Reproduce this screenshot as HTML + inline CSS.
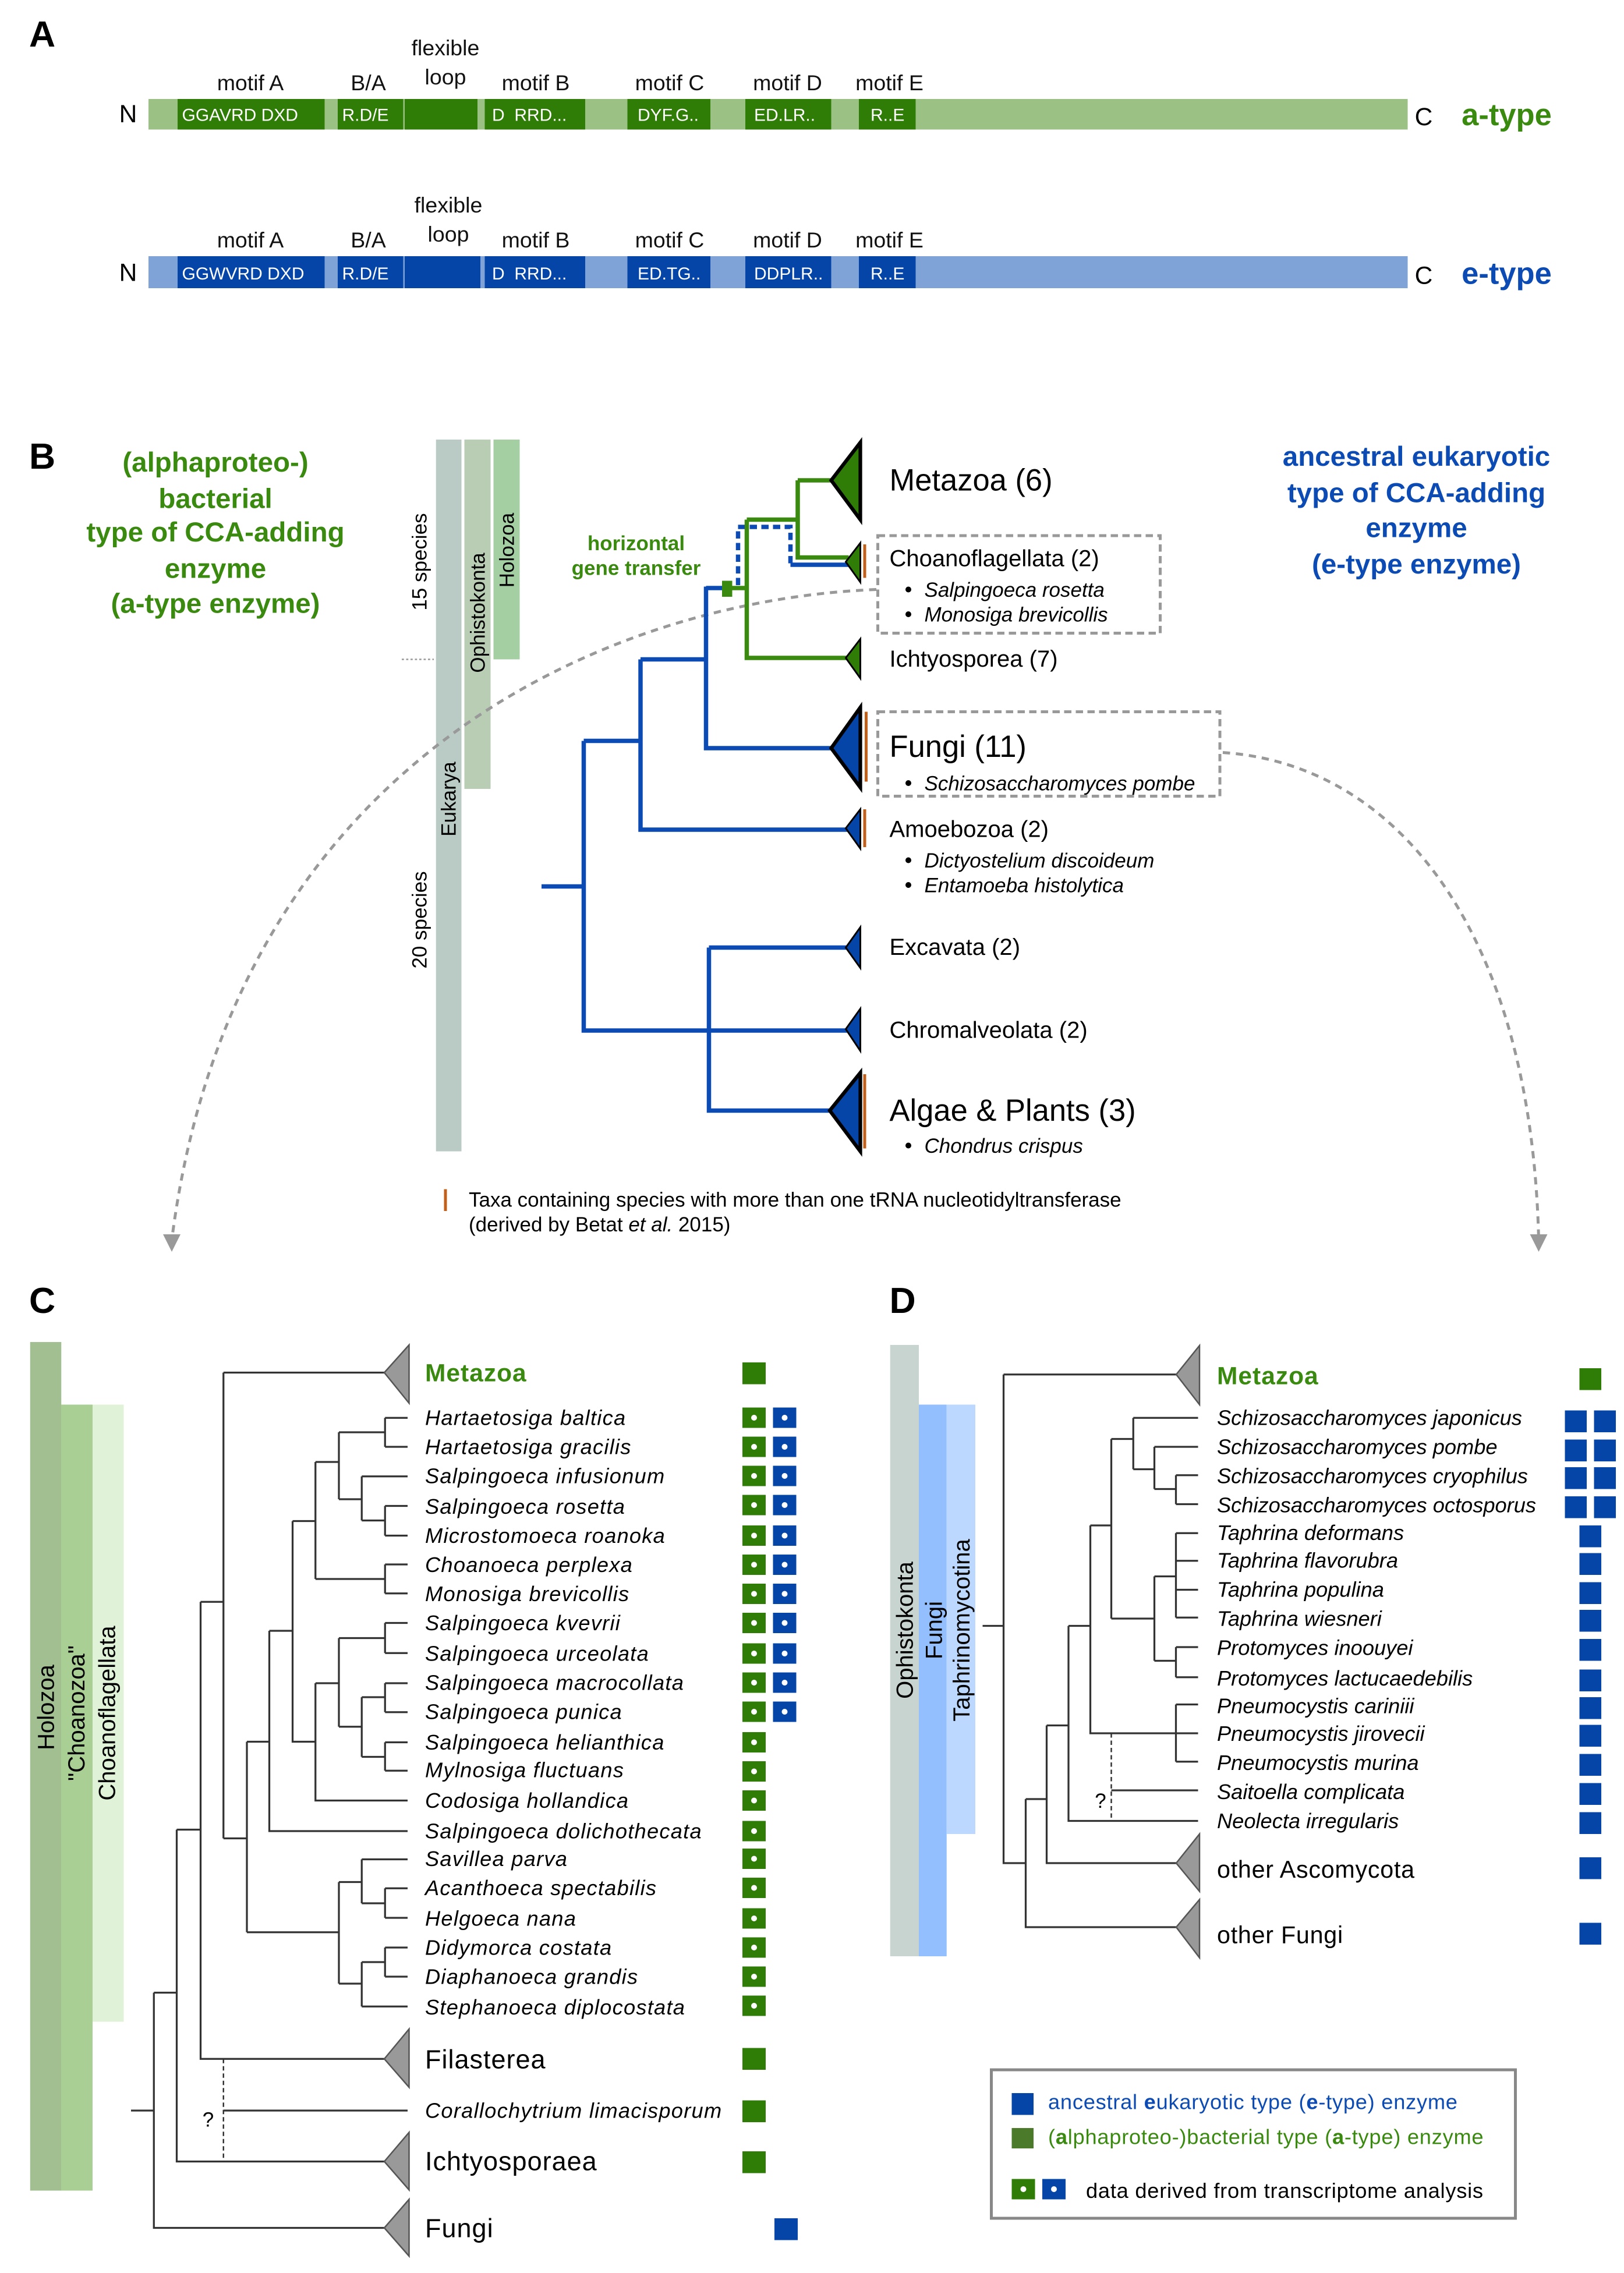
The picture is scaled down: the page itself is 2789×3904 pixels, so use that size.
<!DOCTYPE html>
<html><head><meta charset="utf-8"><style>
html,body{margin:0;padding:0;background:#fff}
svg{display:block}
text{font-family:"Liberation Sans",Arial,sans-serif}
</style></head><body>
<svg width="2789" height="3904" viewBox="0 0 1115.6 1561.6" xmlns="http://www.w3.org/2000/svg">
<rect width="1115.6" height="1561.6" fill="#fff"/>
<!-- Panel A -->
<text x="20" y="32" font-size="25" font-weight="bold">A</text>
<g font-size="15" text-anchor="middle" fill="#111">
<text x="172" y="62">motif A</text><text x="253" y="62">B/A</text>
<text x="306" y="38">flexible</text><text x="306" y="58">loop</text>
<text x="368" y="62">motif B</text><text x="460" y="62">motif C</text>
<text x="541" y="62">motif D</text><text x="611" y="62">motif E</text>
<text x="172" y="170">motif A</text><text x="253" y="170">B/A</text>
<text x="308" y="146">flexible</text><text x="308" y="166">loop</text>
<text x="368" y="170">motif B</text><text x="460" y="170">motif C</text>
<text x="541" y="170">motif D</text><text x="611" y="170">motif E</text>
</g>
<text x="88" y="84" font-size="17" text-anchor="middle">N</text>
<text x="978" y="86" font-size="17" text-anchor="middle">C</text>
<text x="1035" y="86" font-size="21" font-weight="bold" fill="#3a8a10" text-anchor="middle">a-type</text>
<text x="88" y="193" font-size="17" text-anchor="middle">N</text>
<text x="978" y="195" font-size="17" text-anchor="middle">C</text>
<text x="1035" y="195" font-size="21" font-weight="bold" fill="#0b4bb3" text-anchor="middle">e-type</text>
<rect x="102" y="68" width="865" height="21" fill="#9cc184"/>
<g fill="#2f7d07">
<rect x="122" y="68" width="101" height="21"/><rect x="232" y="68" width="45" height="21"/>
<rect x="278" y="68" width="50" height="21"/><rect x="333" y="68" width="69" height="21"/>
<rect x="431" y="68" width="57" height="21"/><rect x="512" y="68" width="59" height="21"/>
<rect x="590" y="68" width="39" height="21"/></g>
<rect x="102" y="176" width="865" height="22" fill="#7fa3d6"/>
<g fill="#0645a8">
<rect x="122" y="176" width="101" height="22"/><rect x="232" y="176" width="45" height="22"/>
<rect x="278" y="176" width="52" height="22"/><rect x="333" y="176" width="69" height="22"/>
<rect x="431" y="176" width="57" height="22"/><rect x="512" y="176" width="59" height="22"/>
<rect x="590" y="176" width="39" height="22"/></g>
<g font-size="12" fill="#fff">
<text x="125" y="83">GGAVRD DXD</text><text x="235" y="83">R.D/E</text><text x="338" y="83">D&#160;&#160;RRD...</text>
<text x="438" y="83">DYF.G..</text><text x="518" y="83">ED.LR..</text><text x="598" y="83">R..E</text>
<text x="125" y="192">GGWVRD DXD</text><text x="235" y="192">R.D/E</text><text x="338" y="192">D&#160;&#160;RRD...</text>
<text x="438" y="192">ED.TG..</text><text x="518" y="192">DDPLR..</text><text x="598" y="192">R..E</text>
</g>
<!-- Panel B -->
<text x="20" y="322" font-size="25" font-weight="bold">B</text>
<g font-size="19" font-weight="bold" fill="#3a8a10" text-anchor="middle">
<text x="148" y="324">(alphaproteo-)</text><text x="148" y="349">bacterial</text>
<text x="148" y="372">type of CCA-adding</text><text x="148" y="397">enzyme</text><text x="148" y="421">(a-type enzyme)</text></g>
<g font-size="19" font-weight="bold" fill="#0b4bb3" text-anchor="middle">
<text x="973" y="320">ancestral eukaryotic</text><text x="973" y="345">type of CCA-adding</text>
<text x="973" y="369">enzyme</text><text x="973" y="394">(e-type enzyme)</text></g>
<rect x="299.5" y="302" width="17.5" height="489" fill="#b9cbc4"/>
<rect x="319" y="302" width="18" height="240" fill="#b9cdb4"/>
<rect x="339" y="302" width="18" height="151" fill="#a3cfa3"/>
<line x1="276" y1="453" x2="298" y2="453" stroke="#999" stroke-dasharray="1.5,1.5"/>
<g font-size="14" text-anchor="middle">
<text transform="translate(293,386) rotate(-90)">15 species</text>
<text transform="translate(293,632) rotate(-90)">20 species</text>
<text transform="translate(313,549) rotate(-90)">Eukarya</text>
<text transform="translate(333,421) rotate(-90)">Ophistokonta</text>
<text transform="translate(353,378) rotate(-90)">Holozoa</text></g>
<g font-size="14" font-weight="bold" fill="#3a8a10" text-anchor="middle">
<text x="437" y="378">horizontal</text><text x="437" y="395">gene transfer</text></g>
<g fill="none" stroke="#999" stroke-width="2" stroke-dasharray="5,4">
<path d="M602,405 C420,412 160,520 118,852"/>
<path d="M840,517 C960,525 1052,640 1057,852"/></g>
<path d="M112,848 L118,860 L124,848 Z" fill="#999"/>
<path d="M1051,848 L1057,860 L1063,848 Z" fill="#999"/>
<g stroke="#0b4bb3" stroke-width="3" fill="none">
<path d="M372,609 H401 M401,509 V708 H585 M401,509 H440 M440,453 V570 H585 M440,453 H485 M485,403 V514 H572 M485,404 H498"/>
<path d="M487,651 V763 H572 M487,651 H582"/>
<path d="M543,388 H583"/>
<path d="M507,402 V362 H543 V388" stroke-dasharray="5,3"/></g>
<g stroke="#3a8a10" stroke-width="3" fill="none">
<path d="M503,404 H513 M513,357 V452 H583 M513,357 H548 M548,330 V383 H583 M548,330 H572"/></g>
<rect x="496" y="399" width="7" height="11" fill="#3a8a10"/>
<g stroke="#000" stroke-width="2.5" stroke-linejoin="miter">
<path d="M571,330 L591,304 L591,357 Z" fill="#2f7d07"/>
<path d="M581,386 L591,373 L591,400 Z" fill="#2f7d07" stroke-width="1.2"/>
<path d="M581,452 L591,439 L591,466 Z" fill="#2f7d07" stroke-width="1.2"/>
<path d="M571,514 L591,486 L591,541 Z" fill="#0645a8"/>
<path d="M581,569 L591,556 L591,583 Z" fill="#0645a8" stroke-width="1.2"/>
<path d="M581,651 L591,637 L591,665 Z" fill="#0645a8" stroke-width="1.2"/>
<path d="M581,707 L591,693 L591,722 Z" fill="#0645a8" stroke-width="1.2"/>
<path d="M570,763 L591,737 L591,791 Z" fill="#0645a8"/></g>
<g stroke="#c0601a" stroke-width="2">
<line x1="594" y1="374" x2="594" y2="397"/><line x1="595" y1="489" x2="595" y2="537"/>
<line x1="594" y1="556" x2="594" y2="582"/><line x1="594" y1="738" x2="594" y2="789"/>
<line x1="306" y1="817" x2="306" y2="832"/></g>
<g fill="none" stroke="#999" stroke-width="2" stroke-dasharray="5,3">
<rect x="603" y="368" width="194" height="67"/><rect x="603" y="489" width="235" height="58"/></g>
<g fill="#000">
<text x="611" y="337" font-size="21">Metazoa (6)</text>
<text x="611" y="389" font-size="16">Choanoflagellata (2)</text>
<text x="611" y="458" font-size="16">Ichtyosporea (7)</text>
<text x="611" y="520" font-size="21">Fungi (11)</text>
<text x="611" y="575" font-size="16">Amoebozoa (2)</text>
<text x="611" y="656" font-size="16">Excavata (2)</text>
<text x="611" y="713" font-size="16">Chromalveolata (2)</text>
<text x="611" y="770" font-size="21">Algae &amp; Plants (3)</text>
<g font-size="14" font-style="italic">
<text x="635" y="410">Salpingoeca rosetta</text><text x="635" y="427">Monosiga brevicollis</text>
<text x="635" y="543">Schizosaccharomyces pombe</text>
<text x="635" y="596">Dictyostelium discoideum</text><text x="635" y="613">Entamoeba histolytica</text>
<text x="635" y="792">Chondrus crispus</text></g>
<g><circle cx="624" cy="405" r="2"/><circle cx="624" cy="422" r="2"/><circle cx="624" cy="538" r="2"/>
<circle cx="624" cy="591" r="2"/><circle cx="624" cy="608" r="2"/><circle cx="624" cy="787" r="2"/></g>
<text x="322" y="829" font-size="14">Taxa containing species with more than one tRNA nucleotidyltransferase</text>
<text x="322" y="846" font-size="14">(derived by Betat <tspan font-style="italic">et al.</tspan> 2015)</text>
</g>
<!-- Panel C -->
<text x="20" y="902" font-size="25" font-weight="bold">C</text>
<rect x="20.7" y="922" width="21.4" height="583" fill="#a2bf92"/>
<rect x="42" y="965" width="21.6" height="540" fill="#a9cf95"/>
<rect x="63.6" y="965" width="21.4" height="424" fill="#e0f3d8"/>
<g font-size="16" text-anchor="middle">
<text transform="translate(37,1173) rotate(-90)">Holozoa</text>
<text transform="translate(58,1177) rotate(-90)">"Choanozoa"</text>
<text transform="translate(79,1177) rotate(-90)">Choanoflagellata</text></g>
<g stroke="#333" stroke-width="1.3" fill="none">
<path d="M90,1450 H105.7 M105.7,1369 V1530.6 H264 M105.7,1369 H121.4 M121.4,1257 V1485 H264 M121.4,1257 H137.8 M137.8,1100.5 V1414.5 H264 M137.8,1100.5 H153.5 M153.5,943 V1263 M153.5,943 H264"/>
<path d="M153.5,1450 H280"/>
<path d="M153.5,1263 H169.6 M169.6,1196.6 V1327.5 M169.6,1196.6 H185 M185,1120.4 V1258 H280 M185,1120.4 H201 M201,1045 V1196.6 H216.7 M216.7,1156.4 V1237 H280 M216.7,1156.4 H232.8 M232.8,1125.4 V1186.3 M232.8,1125.4 H264.5 M264.5,1115 V1135.7 M264.5,1115 H280 M264.5,1135.7 H280 M232.8,1186.3 H248.5 M248.5,1166 V1207 M248.5,1166 H264.5 M264.5,1156.4 V1176.3 M264.5,1156.4 H280 M264.5,1176.3 H280 M248.5,1207 H264.5 M264.5,1197 V1216.5 M264.5,1197 H280 M264.5,1216.5 H280"/>
<path d="M201,1045 H216.7 M216.7,1004.4 V1084.8 M216.7,1004.4 H232.8 M232.8,984 V1030 M232.8,984 H264.5 M264.5,974.1 V994 M264.5,974.1 H280 M264.5,994 H280 M232.8,1030 H248.5 M248.5,1014.3 V1044.6 M248.5,1014.3 H280 M248.5,1044.6 H264.5 M264.5,1034.6 V1055 M264.5,1034.6 H280 M264.5,1055 H280 M216.7,1084.8 H264.5 M264.5,1074.8 V1094.7 M264.5,1074.8 H280 M264.5,1094.7 H280"/>
<path d="M169.6,1327.5 H232.8 M232.8,1293 V1362.8 M232.8,1293 H248.5 M248.5,1277.4 V1307.6 M248.5,1277.4 H280 M248.5,1307.6 H264.5 M264.5,1297.3 V1317.6 M264.5,1297.3 H280 M264.5,1317.6 H280 M232.8,1362.8 H248.5 M248.5,1348 V1378.5 M248.5,1348 H264.5 M264.5,1338 V1358 M264.5,1338 H280 M264.5,1358 H280 M248.5,1378.5 H280"/>
<path d="M153.5,1414.5 V1485" stroke-dasharray="3,2" stroke-width="1"/>
</g>
<text x="143" y="1461" font-size="14" text-anchor="middle">?</text>
<g fill="#999" stroke="#555" stroke-width="1">
<path d="M264,943 L281,924 L281,964 Z"/><path d="M264,1414.5 L281,1394 L281,1434 Z"/>
<path d="M264,1485 L281,1465 L281,1504.5 Z"/><path d="M264,1530.6 L281,1511 L281,1550 Z"/></g>
<text x="292" y="949" font-size="17" font-weight="bold" fill="#3a8a10" letter-spacing="0.4">Metazoa</text>
<g font-size="18" letter-spacing="0.4"><text x="292" y="1421">Filasterea</text><text x="292" y="1491">Ichtyosporaea</text><text x="292" y="1537">Fungi</text></g>
<g font-size="14.5" font-style="italic" letter-spacing="0.5">
<text x="292" y="979">Hartaetosiga baltica</text><text x="292" y="999">Hartaetosiga gracilis</text>
<text x="292" y="1019">Salpingoeca infusionum</text><text x="292" y="1040">Salpingoeca rosetta</text>
<text x="292" y="1060">Microstomoeca roanoka</text><text x="292" y="1080">Choanoeca perplexa</text>
<text x="292" y="1100">Monosiga brevicollis</text><text x="292" y="1120">Salpingoeca kvevrii</text>
<text x="292" y="1141">Salpingoeca urceolata</text><text x="292" y="1161">Salpingoeca macrocollata</text>
<text x="292" y="1181">Salpingoeca punica</text><text x="292" y="1202">Salpingoeca helianthica</text>
<text x="292" y="1221">Mylnosiga fluctuans</text><text x="292" y="1242">Codosiga hollandica</text>
<text x="292" y="1263">Salpingoeca dolichothecata</text><text x="292" y="1282">Savillea parva</text>
<text x="292" y="1302">Acanthoeca spectabilis</text><text x="292" y="1323">Helgoeca nana</text>
<text x="292" y="1343">Didymorca costata</text><text x="292" y="1363">Diaphanoeca grandis</text>
<text x="292" y="1384">Stephanoeca diplocostata</text>
<text x="292" y="1455">Corallochytrium limacisporum</text></g>
<g fill="#2f7d07">
<rect x="510" y="936" width="16" height="15"/><rect x="510" y="1407" width="16" height="15"/>
<rect x="510" y="1443" width="16" height="15"/><rect x="510" y="1478" width="16" height="15"/></g>
<rect x="532" y="1524" width="16" height="15" fill="#0645a8"/>
<g fill="#2f7d07">
<rect x="510" y="967" width="16" height="14"/><rect x="510" y="987" width="16" height="14"/><rect x="510" y="1007" width="16" height="14"/><rect x="510" y="1027" width="16" height="14"/><rect x="510" y="1048" width="16" height="14"/><rect x="510" y="1068" width="16" height="14"/><rect x="510" y="1088" width="16" height="14"/><rect x="510" y="1108" width="16" height="14"/><rect x="510" y="1129" width="16" height="14"/><rect x="510" y="1149" width="16" height="14"/><rect x="510" y="1169" width="16" height="14"/><rect x="510" y="1190" width="16" height="14"/><rect x="510" y="1210" width="16" height="14"/><rect x="510" y="1230" width="16" height="14"/><rect x="510" y="1251" width="16" height="14"/><rect x="510" y="1270" width="16" height="14"/><rect x="510" y="1290" width="16" height="14"/><rect x="510" y="1311" width="16" height="14"/><rect x="510" y="1331" width="16" height="14"/><rect x="510" y="1351" width="16" height="14"/><rect x="510" y="1371" width="16" height="14"/></g>
<g fill="#0645a8">
<rect x="531" y="967" width="16" height="14"/><rect x="531" y="987" width="16" height="14"/><rect x="531" y="1007" width="16" height="14"/><rect x="531" y="1027" width="16" height="14"/><rect x="531" y="1048" width="16" height="14"/><rect x="531" y="1068" width="16" height="14"/><rect x="531" y="1088" width="16" height="14"/><rect x="531" y="1108" width="16" height="14"/><rect x="531" y="1129" width="16" height="14"/><rect x="531" y="1149" width="16" height="14"/><rect x="531" y="1169" width="16" height="14"/></g>
<g fill="#fff">
<circle cx="518" cy="974" r="2"/><circle cx="518" cy="994" r="2"/><circle cx="518" cy="1014" r="2"/><circle cx="518" cy="1034" r="2"/><circle cx="518" cy="1055" r="2"/><circle cx="518" cy="1075" r="2"/><circle cx="518" cy="1095" r="2"/><circle cx="518" cy="1115" r="2"/><circle cx="518" cy="1136" r="2"/><circle cx="518" cy="1156" r="2"/><circle cx="518" cy="1176" r="2"/><circle cx="518" cy="1197" r="2"/><circle cx="518" cy="1217" r="2"/><circle cx="518" cy="1237" r="2"/><circle cx="518" cy="1258" r="2"/><circle cx="518" cy="1277" r="2"/><circle cx="518" cy="1297" r="2"/><circle cx="518" cy="1318" r="2"/><circle cx="518" cy="1338" r="2"/><circle cx="518" cy="1358" r="2"/><circle cx="518" cy="1378" r="2"/>
<circle cx="539" cy="974" r="2"/><circle cx="539" cy="994" r="2"/><circle cx="539" cy="1014" r="2"/><circle cx="539" cy="1034" r="2"/><circle cx="539" cy="1055" r="2"/><circle cx="539" cy="1075" r="2"/><circle cx="539" cy="1095" r="2"/><circle cx="539" cy="1115" r="2"/><circle cx="539" cy="1136" r="2"/><circle cx="539" cy="1156" r="2"/><circle cx="539" cy="1176" r="2"/></g>
<!-- Panel D -->
<text x="611" y="902" font-size="25" font-weight="bold">D</text>
<rect x="611.5" y="924" width="19.7" height="420" fill="#c8d4d0"/>
<rect x="631.2" y="965" width="19.1" height="379" fill="#94bfff"/>
<rect x="650.3" y="965" width="19.7" height="295" fill="#bcd8ff"/>
<g font-size="16" text-anchor="middle">
<text transform="translate(627,1120) rotate(-90)">Ophistokonta</text>
<text transform="translate(647,1120) rotate(-90)">Fungi</text>
<text transform="translate(666,1120) rotate(-90)">Taphrinomycotina</text></g>
<g stroke="#333" stroke-width="1.3" fill="none">
<path d="M675,1117 H689.4 M689.4,944.3 V1280 H704.6 M689.4,944.3 H808 M704.6,1236 V1324 H808 M704.6,1236 H719 M719,1185.4 V1280 H808 M719,1185.4 H734 M734,1117 V1251 H823 M734,1117 H749 M749,1048 V1190.8 H823 M807.8,1171 V1210.3 M807.8,1171 H823 M807.8,1210.3 H823 M763.4,1230 H823"/>
<path d="M749,1048 H763.4 M763.4,988.6 V1112 M763.4,988.6 H778.5 M778.5,974.1 V1009.4 M778.5,974.1 H823 M778.5,1009.4 H793 M793,994 V1023 M793,994 H823 M793,1023 H807.8 M807.8,1013.5 V1033.4 M807.8,1013.5 H823 M807.8,1033.4 H823"/>
<path d="M763.4,1112 H793 M793,1083 V1141 M793,1083 H807.8 M807.8,1053.3 V1111.3 M807.8,1053.3 H823 M807.8,1072.3 H823 M807.8,1092.2 H823 M807.8,1111.3 H823 M793,1141 H807.8 M807.8,1131.6 V1152.3 M807.8,1131.6 H823 M807.8,1152.3 H823"/>
<path d="M763.4,1190.8 V1251" stroke-dasharray="3,2" stroke-width="1"/></g>
<text x="756" y="1242" font-size="14" text-anchor="middle">?</text>
<g fill="#999" stroke="#555" stroke-width="1">
<path d="M808,944.3 L824,924.4 L824,965 Z"/><path d="M808,1280 L824,1260 L824,1299.4 Z"/><path d="M808,1324 L824,1305 L824,1345 Z"/></g>
<text x="836" y="951" font-size="17" font-weight="bold" fill="#3a8a10" letter-spacing="0.4">Metazoa</text>
<g font-size="16.5" letter-spacing="0.3"><text x="836" y="1290">other Ascomycota</text><text x="836" y="1335">other Fungi</text></g>
<g font-size="14.5" font-style="italic">
<text x="836" y="979">Schizosaccharomyces japonicus</text><text x="836" y="999">Schizosaccharomyces pombe</text>
<text x="836" y="1019">Schizosaccharomyces cryophilus</text><text x="836" y="1039">Schizosaccharomyces octosporus</text>
<text x="836" y="1058">Taphrina deformans</text><text x="836" y="1077">Taphrina flavorubra</text>
<text x="836" y="1097">Taphrina populina</text><text x="836" y="1117">Taphrina wiesneri</text>
<text x="836" y="1137">Protomyces inoouyei</text><text x="836" y="1158">Protomyces lactucaedebilis</text>
<text x="836" y="1177">Pneumocystis cariniii</text><text x="836" y="1196">Pneumocystis jirovecii</text>
<text x="836" y="1216">Pneumocystis murina</text><text x="836" y="1236">Saitoella complicata</text>
<text x="836" y="1256">Neolecta irregularis</text></g>
<rect x="1085" y="940" width="15" height="15" fill="#2f7d07"/>
<g fill="#0645a8">
<rect x="1075" y="969" width="15" height="15"/><rect x="1095" y="969" width="15" height="15"/>
<rect x="1075" y="989" width="15" height="15"/><rect x="1095" y="989" width="15" height="15"/>
<rect x="1075" y="1008" width="15" height="15"/><rect x="1095" y="1008" width="15" height="15"/>
<rect x="1075" y="1028" width="15" height="15"/><rect x="1095" y="1028" width="15" height="15"/>
<rect x="1085" y="1048" width="15" height="15"/><rect x="1085" y="1067" width="15" height="15"/>
<rect x="1085" y="1087" width="15" height="15"/><rect x="1085" y="1106" width="15" height="15"/>
<rect x="1085" y="1126" width="15" height="15"/><rect x="1085" y="1147" width="15" height="15"/>
<rect x="1085" y="1166" width="15" height="15"/><rect x="1085" y="1185" width="15" height="15"/>
<rect x="1085" y="1205" width="15" height="15"/><rect x="1085" y="1225" width="15" height="15"/>
<rect x="1085" y="1245" width="15" height="15"/><rect x="1085" y="1276" width="15" height="15"/>
<rect x="1085" y="1321" width="15" height="15"/></g>
<!-- legend -->
<rect x="681" y="1422" width="360" height="102" fill="none" stroke="#888" stroke-width="2"/>
<rect x="695" y="1438" width="15" height="15" fill="#0645a8"/>
<rect x="695" y="1462" width="15" height="14" fill="#4a7a2a"/>
<rect x="695" y="1497" width="16" height="14" fill="#2f7d07"/><circle cx="703" cy="1504" r="2" fill="#fff"/>
<rect x="716" y="1497" width="16" height="14" fill="#0645a8"/><circle cx="724" cy="1504" r="2" fill="#fff"/>
<text x="720" y="1449" font-size="14.5" fill="#0b4bb3" letter-spacing="0.3">ancestral <tspan font-weight="bold">e</tspan>ukaryotic type (<tspan font-weight="bold">e</tspan>-type) enzyme</text>
<text x="720" y="1473" font-size="14.5" fill="#3a8a10" letter-spacing="0.3">(<tspan font-weight="bold">a</tspan>lphaproteo-)bacterial type (<tspan font-weight="bold">a</tspan>-type) enzyme</text>
<text x="746" y="1510" font-size="14.5" letter-spacing="0.3">data derived from transcriptome analysis</text>
</svg>
</body></html>
